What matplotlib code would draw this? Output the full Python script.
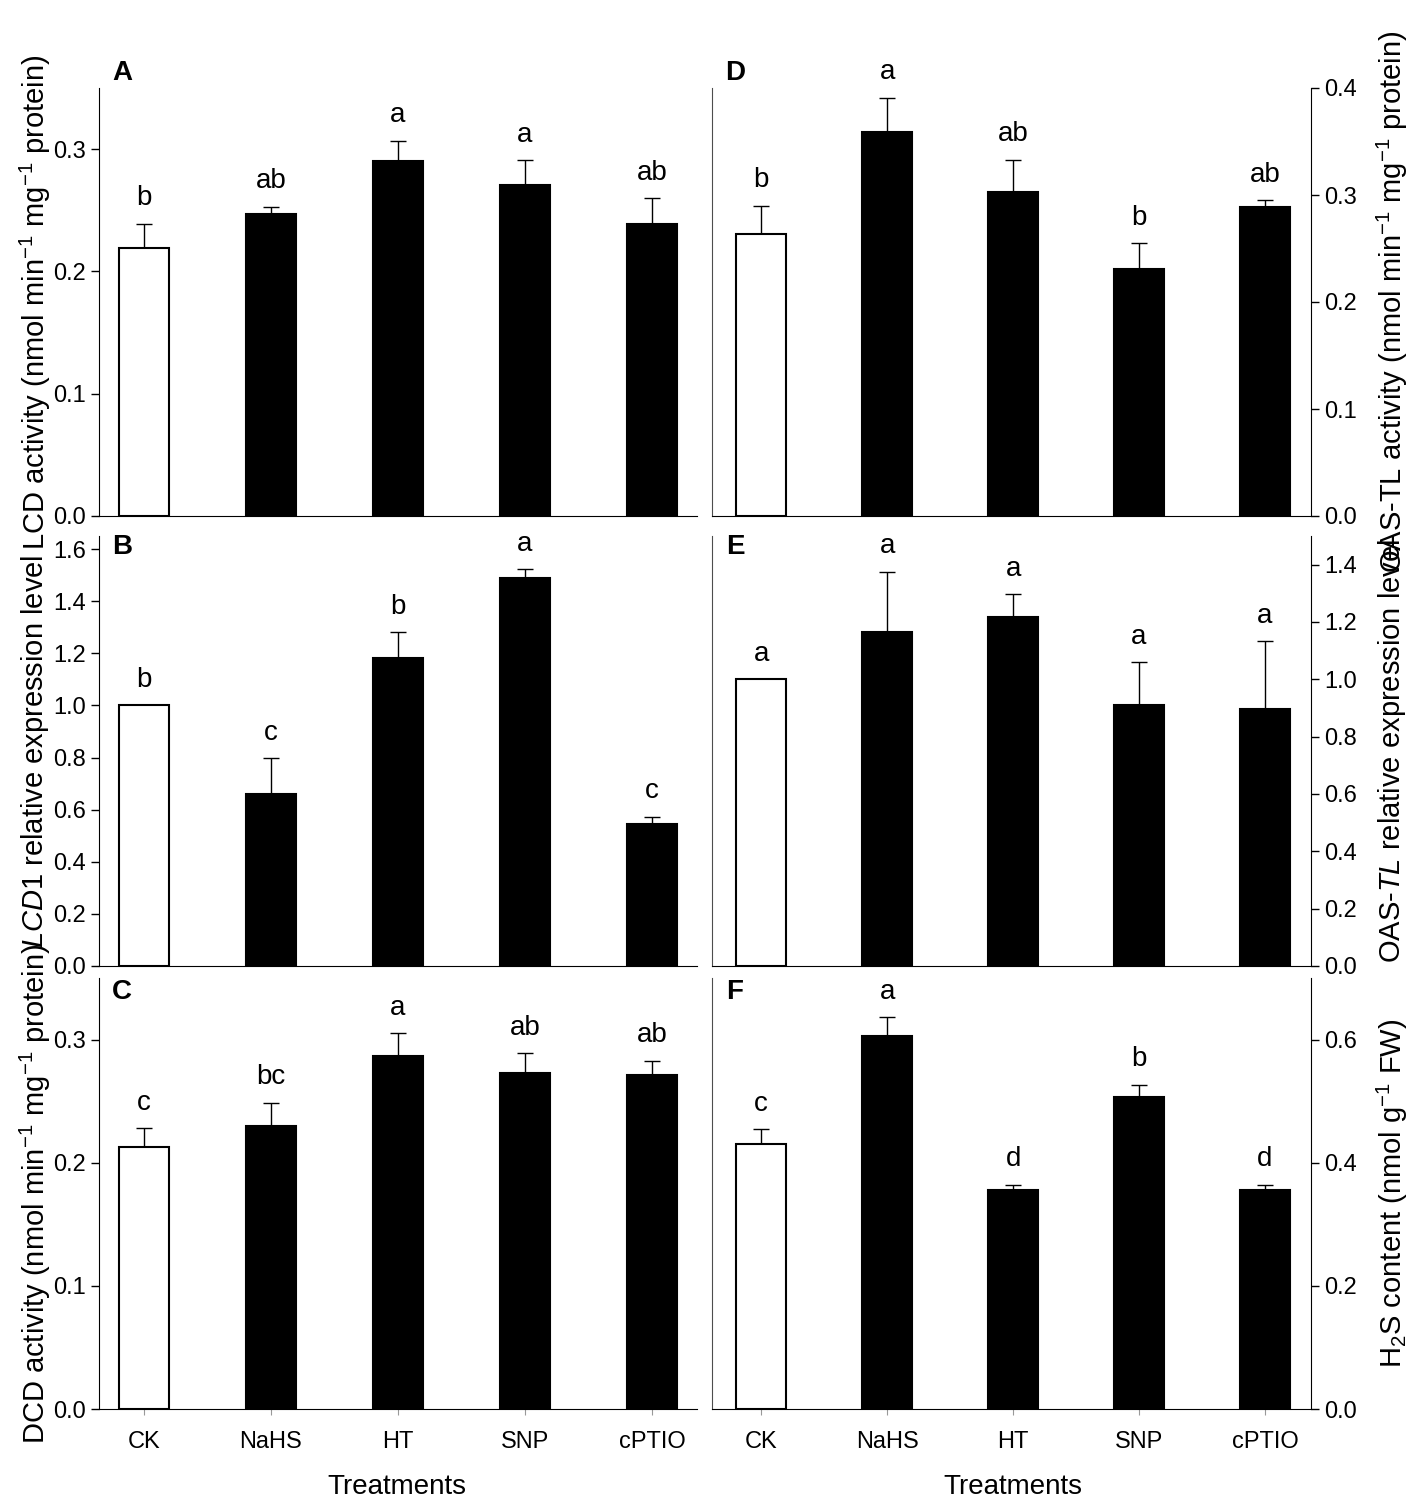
import matplotlib
matplotlib.use('Agg')
import matplotlib.pyplot as plt
import numpy as np

plt.rcParams['font.family'] = ['Liberation Sans', 'DejaVu Sans']
plt.rcParams['mathtext.fontset'] = 'custom'
plt.rcParams['mathtext.rm'] = 'Liberation Sans'
plt.rcParams['mathtext.it'] = 'Liberation Sans:italic'

treatments = ['CK', 'NaHS', 'HT', 'SNP', 'cPTIO']

# A - LCD activity
lcd_act = [0.219, 0.247, 0.290, 0.271, 0.239]
lcd_act_se = [0.020, 0.006, 0.017, 0.020, 0.021]
lcd_act_sig = ['b', 'ab', 'a', 'a', 'ab']

# B - LCD1 relative expression
lcd1_exp = [1.0, 0.66, 1.18, 1.488, 0.545]
lcd1_exp_se = [0.0, 0.137, 0.10, 0.034, 0.027]
lcd1_exp_sig = ['b', 'c', 'b', 'a', 'c']

# C - DCD activity
dcd_act = [0.2125, 0.2295, 0.287, 0.273, 0.271]
dcd_act_se = [0.0155, 0.019, 0.018, 0.016, 0.012]
dcd_act_sig = ['c', 'bc', 'a', 'ab', 'ab']

# D - OAS-TL activity
oas_act = [0.264, 0.359, 0.303, 0.231, 0.289]
oas_act_se = [0.026, 0.032, 0.030, 0.024, 0.006]
oas_act_sig = ['b', 'a', 'ab', 'b', 'ab']

# E - OAS-TL relative expression
oas_exp = [1.0, 1.164, 1.216, 0.909, 0.895]
oas_exp_se = [0.0, 0.212, 0.080, 0.150, 0.237]
oas_exp_sig = ['a', 'a', 'a', 'a', 'a']

# F - H2S content
h2s = [0.431, 0.605, 0.356, 0.507, 0.356]
h2s_se = [0.023, 0.031, 0.008, 0.020, 0.008]
h2s_sig = ['c', 'a', 'd', 'b', 'd']

W, H = 1417, 1500
fig = plt.figure(figsize=(W / 100, H / 100), dpi=100)


def panel(rect, means, errs, sig, ylim, yticks, side, xlim, show_x):
    ax = fig.add_axes(rect)
    x = np.arange(len(treatments))
    colors = ['white'] + ['black'] * 4
    ax.errorbar(x, means, yerr=[np.zeros(len(x)), errs], fmt='none',
                ecolor='black', elinewidth=1, capsize=6, capthick=1, zorder=1)
    ax.bar(x, means, width=0.4, color=colors, edgecolor='black',
           linewidth=1.5, zorder=2)
    for xi, m, e, s in zip(x, means, errs, sig):
        ax.annotate(s, (xi, m + e), xytext=(0, 9), textcoords='offset points',
                    ha='center', va='bottom', fontsize=20)
    ax.set_xlim(*xlim)
    ax.set_ylim(*ylim)
    ax.set_yticks(yticks)
    ax.set_yticklabels(['%.1f' % t for t in yticks])
    ax.spines['top'].set_visible(False)
    if side == 'left':
        ax.spines['right'].set_visible(False)
    else:
        ax.yaxis.tick_right()
        ax.spines['left'].set_linewidth(0.8)
        ax.spines['left'].set_color('0.3')
    ax.tick_params(axis='y', direction='out', length=6, width=1, labelsize=17)
    if show_x:
        ax.set_xticks(x)
        ax.set_xticklabels(treatments)
        ax.tick_params(axis='x', direction='out', length=4, color='0.6',
                       pad=12, labelsize=17)
    else:
        ax.set_xticks([])
    return ax


lx, lw = 99 / W, 598 / W
rx, rw = 712 / W, 599 / W
rows = [(88, 516), (536, 966), (978, 1409)]
rects = [(1 - b / H, (b - t) / H) for t, b in rows]
lxlim = (-0.354, 4.354)
rxlim = (-0.39, 4.365)

panel([lx, rects[0][0], lw, rects[0][1]], lcd_act, lcd_act_se, lcd_act_sig,
      (0, 0.35), [0, 0.1, 0.2, 0.3], 'left', lxlim, False)
panel([lx, rects[1][0], lw, rects[1][1]], lcd1_exp, lcd1_exp_se, lcd1_exp_sig,
      (0, 1.65), [0, 0.2, 0.4, 0.6, 0.8, 1.0, 1.2, 1.4, 1.6], 'left', lxlim, False)
panel([lx, rects[2][0], lw, rects[2][1]], dcd_act, dcd_act_se, dcd_act_sig,
      (0, 0.35), [0, 0.1, 0.2, 0.3], 'left', lxlim, True)
panel([rx, rects[0][0], rw, rects[0][1]], oas_act, oas_act_se, oas_act_sig,
      (0, 0.4), [0, 0.1, 0.2, 0.3, 0.4], 'right', rxlim, False)
panel([rx, rects[1][0], rw, rects[1][1]], oas_exp, oas_exp_se, oas_exp_sig,
      (0, 1.5), [0, 0.2, 0.4, 0.6, 0.8, 1.0, 1.2, 1.4], 'right', rxlim, False)
panel([rx, rects[2][0], rw, rects[2][1]], h2s, h2s_se, h2s_sig,
      (0, 0.7), [0, 0.2, 0.4, 0.6], 'right', rxlim, True)

left_labels = [r'LCD activity (nmol min$^{-1}$ mg$^{-1}$ protein)',
               r'$\it{LCD1}$ relative expression level',
               r'DCD activity (nmol min$^{-1}$ mg$^{-1}$ protein)']
right_labels = [r'OAS-TL activity (nmol min$^{-1}$ mg$^{-1}$ protein)',
                r'OAS-$\it{TL}$ relative expression level',
                r'H$_2$S content (nmol g$^{-1}$ FW)']
for (y0, h), ll, rl in zip(rects, left_labels, right_labels):
    fig.text(35 / W, y0 + h / 2, ll, rotation=90, ha='center', va='center', fontsize=21)
    fig.text(1392 / W, y0 + h / 2, rl, rotation=90, ha='center', va='center', fontsize=21)

for lab, px, py in [('A', 122, 73), ('B', 122, 547), ('C', 122, 992),
                    ('D', 735, 73), ('E', 735, 547), ('F', 735, 992)]:
    fig.text(px / W, 1 - py / H, lab, fontsize=20, fontweight='bold',
             ha='center', va='center')

fig.text(397 / W, 1 - 1487 / H, 'Treatments', fontsize=20, ha='center', va='center')
fig.text(1013 / W, 1 - 1487 / H, 'Treatments', fontsize=20, ha='center', va='center')

fig.savefig('out.png', dpi=100)
plt.close()
